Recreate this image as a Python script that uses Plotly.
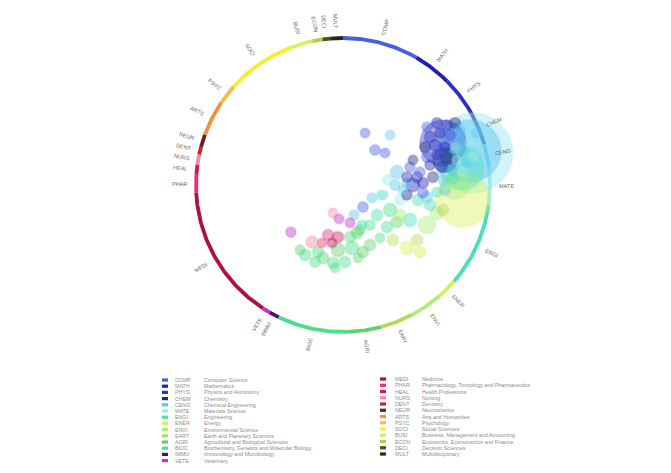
import numpy as np
import plotly.graph_objects as go

# ---------------- data ----------------
codes = ["COMP", "MATH", "PHYS", "CHEM", "CENG", "MATE", "ENGI", "ENER", "ENVI", "EART",
         "AGRI", "BIOC", "IMMU", "VETE",
         "MEDI", "PHAR", "HEAL", "NURS", "DENT", "NEUR", "ARTS", "PSYC", "SOCI", "BUSI",
         "ECON", "DECI", "MULT"]
names = ["Computer Science", "Mathematics", "Physics and Astronomy", "Chemistry",
         "Chemical Engineering", "Materials Science", "Engineering", "Energy",
         "Environmental Science", "Earth and Planetary Sciences",
         "Agricultural and Biological Sciences", "Biochemistry, Genetics and Molecular Biology",
         "Immunology and Microbiology", "Veterinary",
         "Medicine", "Pharmacology, Toxicology and Pharmaceutics", "Health Professions",
         "Nursing", "Dentistry", "Neuroscience", "Arts and Humanities", "Psychology",
         "Social Sciences", "Business, Management and Accounting",
         "Economics, Econometrics and Finance", "Decision Sciences", "Multidisciplinary"]
colors = ["#4a5fe0", "#2020b0", "#3030c8", "#1a2a80", "#5cc8f0", "#a0e8f0", "#48e0b8",
          "#d8f050", "#a8f078", "#b8d858", "#60d070", "#48e088", "#4a1070", "#c030d0",
          "#b01040", "#f02878", "#d01858", "#f088a8", "#c02828", "#682020", "#f09040",
          "#f0c048", "#f0f030", "#d8f060", "#b0d050", "#505018", "#282818"]
# share of the ring (degrees) for each subject area, clockwise from the top
ring_share = [30, 15, 16, 13, 9, 15, 33, 8, 13, 13, 13, 28, 4, 3,
              54, 7, 4, 4, 3, 5, 14, 8, 27, 9, 4, 3, 5]

# bubbles: position inside the ring (ring radius = 100), radius, subject area
bubble_x = [88.4, 86.4, 80.9, 68.0, 81.6, 76.2, 69.4,
            57.1, 63.9, 70.7, 76.2, 79.6, 59.2, 66.0, 72.8, 79.6, 55.8, 62.6, 69.4, 76.2, 81.6,
            57.1, 63.9, 70.7, 77.5, 84.3, 59.2, 67.3, 74.1, 81.6, 52.4, 61.2, 68.0, 74.8, 45.6,
            50.3, 43.5, 54.4, 57.1, 63.9, 86.4, 88.4, 91.1,
            15.0, 32.0, 21.8, 28.6, 36.7, 47.6, 43.5, 47.6, 40.8, 27.2, 13.6, 7.5, 12.9, 25.2,
            54.4, 43.5,
            -35.4, -21.1, -10.2, -3.4, -14.3, -7.5, -6.8, -2.7, 4.8,
            -17.0, -3.4, 6.1, 13.6, -6.8, 10.2, -5.4, 4.8, 9.5, 23.1, 25.2, 32.0, 36.7, 38.8,
            45.6, 57.1, 29.9, 63.9, 68.0, 34.0, 43.5, 50.3, 52.4, -25.8, 1.4, 18.4, -13.6,
            35.4, 30.6, 51.0, 38.8, 19.7, 59.2, 69.4, 11.6, 18.4, -19.0, -29.2]
bubble_y = [21.8, 23.1, 11.6, 28.6, -10.2, 0.0, 17.0,
            39.4, 42.2, 40.8, 42.2, 37.4, 32.6, 35.4, 34.0, 30.6, 25.8, 27.2, 25.8, 25.2, 23.8,
            19.0, 20.4, 18.4, 17.0, 15.6, 13.6, 12.2, 10.2, 8.8, 8.8, 5.4, 3.4, 4.8, 12.2,
            5.4, 1.4, 1.4, -8.2, -4.8, 28.6, 19.0, 35.4,
            35.4, 34.0, 23.8, 21.8, 8.8, 17.0, 5.4, 0.0, -3.4, -6.8, -15.0, -20.4, -27.2, -6.8,
            -5.4, -6.8,
            -32.0, -38.8, -34.0, -35.4, -39.4, -39.4, -19.0, -23.1, -25.8,
            -45.6, -44.2, -42.8, -45.6, -53.0, -49.6, -56.4, -35.4, -32.6, -20.4, -36.0, -17.0,
            -25.2, -20.4, -23.8, -27.2, -28.6, -19.0, -17.0, -37.4, -42.8, -37.4, -45.6, -47.6,
            -52.4, -40.8, -49.6,
            0.0, 3.4, -10.2, -10.2, -8.8, -13.6, -3.4, -30.6, -27.2, -52.4, -44.2]
bubble_r = [27.2, 21.1, 15.0, 15.6, 18.4, 9.5, 8.2,
            3.5, 3.7, 3.5, 3.7, 3.5, 3.9, 3.5, 3.7, 3.5, 3.7, 3.9, 3.5, 3.7, 3.5,
            3.7, 3.5, 3.9, 3.5, 3.7, 3.5, 3.9, 3.5, 3.7, 3.5, 3.7, 3.5, 3.9, 3.5,
            3.7, 3.5, 3.7, 3.9, 3.5, 3.7, 3.5, 3.5,
            3.3, 3.3, 3.6, 3.3, 4.6, 3.3, 3.5, 4.6, 3.3, 3.3, 3.6, 3.3, 3.3, 3.3,
            3.5, 3.5,
            3.5, 4.1, 3.8, 3.8, 3.1, 3.3, 3.3, 3.3, 3.3,
            3.9, 4.6, 4.6, 3.9, 3.9, 3.2, 3.3, 3.9, 3.9, 3.9, 3.3, 4.6, 3.9, 3.9,
            4.6, 6.0, 3.9, 4.6, 3.9, 3.9, 4.6, 3.9, 3.9, 3.9, 3.9, 3.9, 3.9,
            3.6, 3.6, 3.9, 3.6, 3.4, 3.9, 3.6, 3.6, 3.6, 3.6, 3.4]
bubble_cat = ["MATE", "CENG", "ENGI", "PHYS", "ENER", "ENVI", "CHEM",
              "COMP", "MATH", "PHYS", "CHEM", "CENG", "PHYS", "MATH", "COMP", "CENG", "CHEM",
              "PHYS", "MATH", "MATE", "CENG", "COMP", "PHYS", "CHEM", "MATE", "CENG", "MATH",
              "PHYS", "CENG", "MATE", "COMP", "CHEM", "CENG", "ENGI", "COMP", "PHYS", "CENG",
              "MATH", "CENG", "ENGI", "MATE", "MATE", "CENG",
              "COMP", "CENG", "COMP", "COMP", "CENG", "CHEM", "PHYS", "MATH", "CENG", "ENGI",
              "COMP", "CENG", "ENGI", "MATE", "COMP", "CHEM",
              "VETE", "NURS", "PHAR", "HEAL", "PHAR", "MEDI", "NURS", "VETE", "VETE",
              "BIOC", "AGRI", "BIOC", "AGRI", "BIOC", "AGRI", "BIOC", "BIOC", "AGRI", "ENGI",
              "BIOC", "BIOC", "AGRI", "ENVI", "ENGI", "ENVI", "BIOC", "ENVI", "EART", "EART",
              "ENER", "EART", "ENER", "BIOC", "BIOC", "AGRI", "AGRI",
              "CENG", "MATE", "ENGI", "MATE", "CENG", "ENGI", "CENG", "AGRI", "BIOC", "BIOC",
              "AGRI"]

# ---------------- layout constants ----------------
W, H = 671, 473
CX, CY = 343, 185          # ring centre in page pixels
PX = 1.47                  # pixels per data unit (ring radius = 100 units)
RING_R = 100

color_of = dict(zip(codes, colors))


def rgba(hexc, a):
    h = hexc.lstrip("#")
    r, g, b = int(h[0:2], 16), int(h[2:4], 16), int(h[4:6], 16)
    return f"rgba({r},{g},{b},{a})"


fig = go.Figure()

# ring segments
start = np.concatenate([[0], np.cumsum(ring_share)[:-1]])
for c, s, w, col in zip(codes, start, ring_share, colors):
    th = np.radians(np.linspace(s, s + w, max(8, int(w * 2))))
    fig.add_trace(go.Scatter(x=RING_R * np.sin(th), y=RING_R * np.cos(th), mode="lines",
                             line=dict(color=col, width=3.8), hoverinfo="skip",
                             showlegend=False))

# bubbles, largest drawn first
order = np.argsort(-np.array(bubble_r), kind="stable")
bx = np.array(bubble_x)[order]
by = np.array(bubble_y)[order]
br = np.array(bubble_r)[order]
bc = [bubble_cat[i] for i in order]
fill = [rgba(color_of[c], 0.68 if r > 20 else (0.55 if r > 6 else 0.6)) for c, r in zip(bc, br)]
edge = [rgba(color_of[c], 0.3) for c in bc]
fig.add_trace(go.Scatter(x=bx, y=by, mode="markers", hoverinfo="skip", showlegend=False,
                         marker=dict(size=br, sizemode="diameter", sizeref=1 / (2 * PX),
                                     color=fill, line=dict(color=edge, width=1.8))))

# ring labels
FS = 5.5
annotations = []
mids = start + np.array(ring_share) / 2
for c, m in zip(codes, mids):
    wpx = len(c) * FS * 0.68
    rc = (156 + wpx / 2) / PX
    th = np.radians(m)
    ang = m - 90 if m <= 180 else m - 270
    annotations.append(dict(x=rc * np.sin(th), y=rc * np.cos(th), xref="x", yref="y",
                            text=c, showarrow=False, textangle=ang,
                            xanchor="center", yanchor="middle",
                            font=dict(size=FS, color="#666666", family="Liberation Sans")))

# legend (two columns)
shapes = []
LFS = 5.3
for i, (c, n, col) in enumerate(zip(codes, names, colors)):
    if i < 14:
        row_y, sx, cx_, nx = 380 + 6.2 * i, 162, 173, 202
    else:
        row_y, sx, cx_, nx = 379 + 6.25 * (i - 14), 380, 393, 420
    shapes.append(dict(type="rect", xref="paper", yref="paper",
                       x0=sx / W, x1=(sx + 6) / W,
                       y0=1 - (row_y + 1.6) / H, y1=1 - (row_y - 1.6) / H,
                       fillcolor=col, line=dict(width=0)))
    annotations.append(dict(x=cx_ / W, y=1 - row_y / H, xref="paper", yref="paper",
                            text=c, showarrow=False, xanchor="left", yanchor="middle",
                            font=dict(size=LFS, color="#8c8c8c", family="Liberation Sans")))
    annotations.append(dict(x=nx / W, y=1 - row_y / H, xref="paper", yref="paper",
                            text=n, showarrow=False, xanchor="left", yanchor="middle",
                            font=dict(size=LFS, color="#8c8c8c", family="Liberation Sans")))

fig.update_layout(
    width=W, height=H, margin=dict(l=0, r=0, t=0, b=0),
    paper_bgcolor="white", plot_bgcolor="white",
    xaxis=dict(range=[-CX / PX, (W - CX) / PX], visible=False, fixedrange=True),
    yaxis=dict(range=[-(H - CY) / PX, CY / PX], visible=False, fixedrange=True),
    annotations=annotations, shapes=shapes,
)

fig.write_html("out.html", config={"displayModeBar": False},
               post_script="document.body.style.margin='0';document.body.style.padding='0';")
